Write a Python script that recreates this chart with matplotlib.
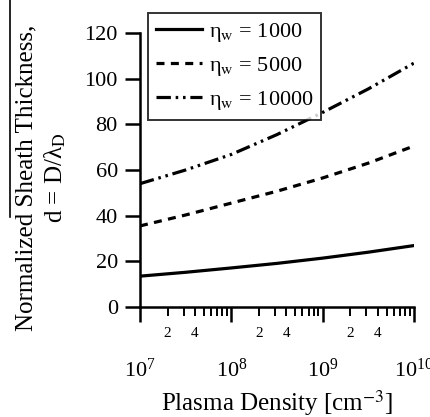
import numpy as np
import matplotlib.pyplot as plt
from matplotlib.lines import Line2D
from matplotlib.ticker import LogLocator, FuncFormatter

plt.rcParams['font.family'] = ['Liberation Serif', 'DejaVu Serif']
plt.rcParams['mathtext.fontset'] = 'stix'

# plasma density [cm^-3]
density = [1e7, 10**7.5, 1e8, 10**8.5, 1e9, 10**9.5, 1e10]
# normalized sheath thickness for each wall potential
d_1000 = [13.5, 15.2, 17.1, 19.1, 21.4, 24.0, 26.9]
d_5000 = [35.5, 40.3, 45.5, 50.7, 56.5, 63.0, 70.5]
d_10000 = [54.0, 60.0, 66.8, 75.5, 85.2, 95.5, 106.8]
labels = ['η$_\\mathrm{w}$ = 1000', 'η$_\\mathrm{w}$ = 5000', 'η$_\\mathrm{w}$ = 10000']

fig = plt.figure(figsize=(4.3, 4.17), dpi=100)
ax = fig.add_axes([0.3256, 0.2638, 0.6372, 0.6572])

ax.plot(density, d_1000, color='black', lw=2.3, ls='-', label=labels[0])
ax.plot(density, d_5000, color='black', lw=2.3, ls=(0, (2.5, 2)), label=labels[1])
ax.plot(density, d_10000, color='black', lw=2.3, ls=(0, (4.5, 1.5, 0.8, 1.5, 0.8, 1.5)),
        label=labels[2])

ax.set_xscale('log')
ax.set_xlim(1e7, 1e10)
ax.set_ylim(0, 120)
ax.set_yticks([0, 20, 40, 60, 80, 100, 120])
ax.tick_params(axis='y', direction='out', length=11, width=1.8, labelsize=16, pad=5)
ax.tick_params(axis='x', which='major', direction='out', length=11, width=1.8,
               labelsize=16, pad=26)
ax.tick_params(axis='x', which='minor', direction='out', length=6.5, width=1.4,
               labelsize=11, pad=8)
ax.xaxis.set_minor_locator(LogLocator(base=10, subs=np.arange(2, 10)))


def minor_fmt(x, pos):
    m = round(x / 10 ** np.floor(np.log10(x) + 1e-9))
    return str(m) if m in (2, 4) else ''


ax.xaxis.set_minor_formatter(FuncFormatter(minor_fmt))

for s in ['top', 'right']:
    ax.spines[s].set_visible(False)
for s in ['left', 'bottom']:
    ax.spines[s].set_linewidth(1.8)

ax.set_xlabel('Plasma Density [cm$^{-3}$]', fontsize=18, labelpad=5)
ax.set_ylabel('Normalized Sheath Thickness,\nd = D/λ$_\\mathrm{D}$',
              fontsize=18, linespacing=1.25)
ax.yaxis.set_label_coords(-0.262, 0.47)

leg = ax.legend(loc='upper left', bbox_to_anchor=(0.029, 1.073), fontsize=16,
                frameon=True, fancybox=False, edgecolor='black', handlelength=2.1,
                handletextpad=0.3, borderpad=0.35, labelspacing=0.5,
                borderaxespad=0)
leg.get_frame().set_linewidth(1.4)

# stray rule over the label in the original scan
fig.add_artist(Line2D([10 / 430, 10 / 430], [1.0, 1 - 217 / 417],
                      color='black', lw=1.2))

fig.savefig('out.png', dpi=100)
